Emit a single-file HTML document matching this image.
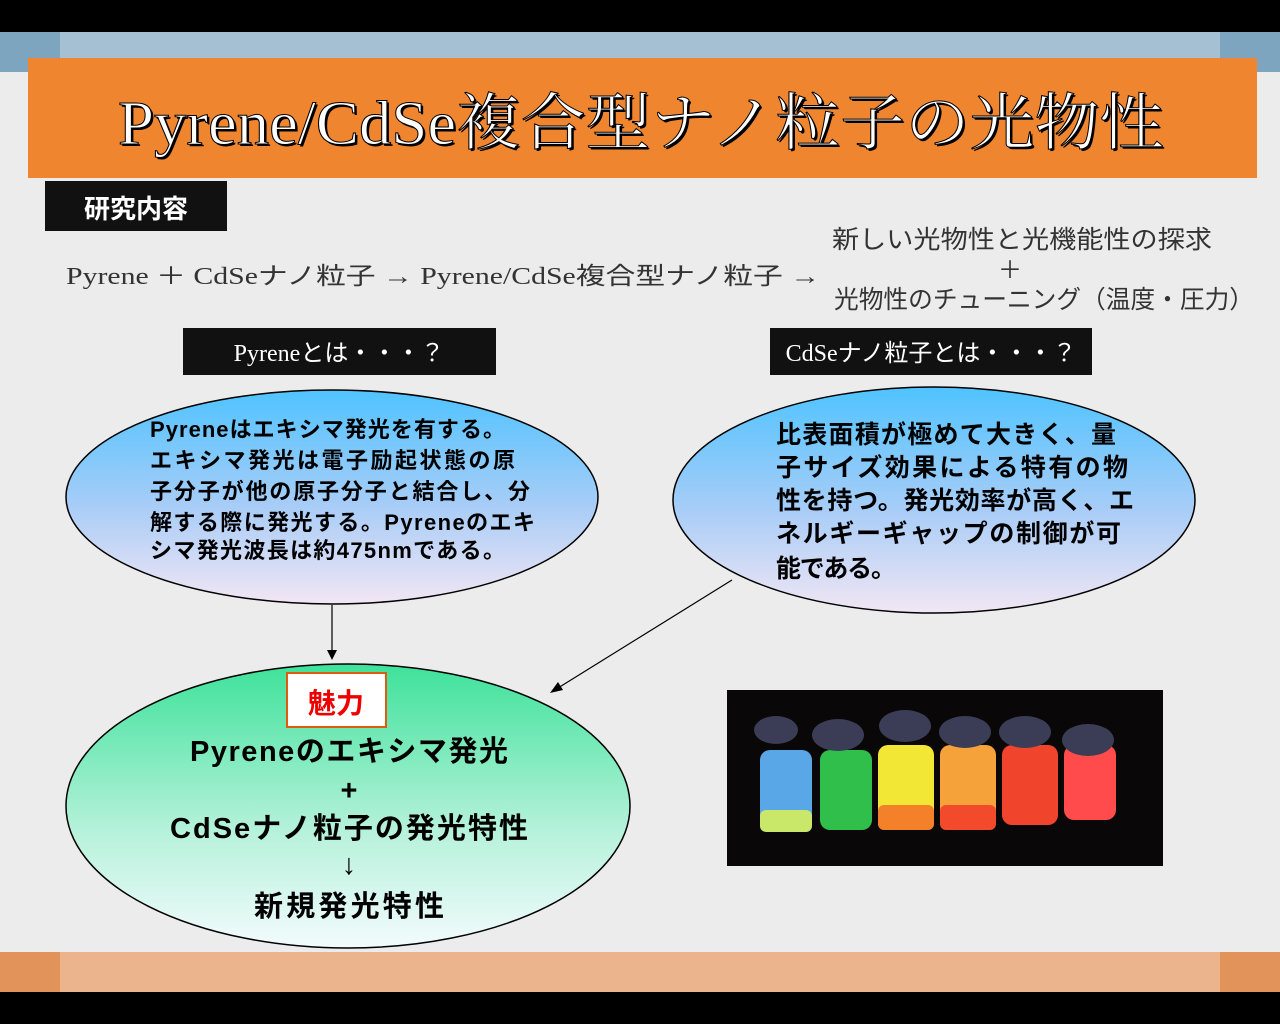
<!DOCTYPE html>
<html><head><meta charset="utf-8"><style>
body{margin:0;width:1280px;height:1024px;overflow:hidden;background:#ececec;font-family:"Liberation Sans","Noto Sans CJK JP",sans-serif}
svg{display:block}
</style></head><body>
<svg width="1280" height="1024" viewBox="0 0 1280 1024" xmlns="http://www.w3.org/2000/svg">
<defs>
<linearGradient id="blu" x1="0" y1="0" x2="0" y2="1"><stop offset="0" stop-color="#4fc3ff"/><stop offset="0.55" stop-color="#a9cdf7"/><stop offset="1" stop-color="#f2e6f4"/></linearGradient>
<linearGradient id="grn" x1="0" y1="0" x2="0" y2="1"><stop offset="0" stop-color="#3ee29a"/><stop offset="0.6" stop-color="#b8f2dc"/><stop offset="1" stop-color="#f3fbfd"/></linearGradient>
</defs>
<rect width="1280" height="1024" fill="#ececec"/>
<rect x="0" y="0" width="1280" height="32" fill="#000"/>
<rect x="0" y="32" width="1280" height="40" fill="#a6c0d3"/>
<rect x="0" y="32" width="60" height="40" fill="#7ea5c0"/>
<rect x="1220" y="32" width="60" height="40" fill="#7ea5c0"/>
<rect x="0" y="952" width="1280" height="40" fill="#ecb48c"/>
<rect x="0" y="952" width="60" height="40" fill="#e2935a"/>
<rect x="1220" y="952" width="60" height="40" fill="#e2935a"/>
<rect x="0" y="992" width="1280" height="32" fill="#000"/>
<rect x="28" y="58" width="1229" height="120" fill="#f08530"/>
<g font-family="Liberation Serif,'Noto Serif CJK SC',serif" font-size="62">
<text x="120" y="146" textLength="1046" lengthAdjust="spacingAndGlyphs" fill="#000">Pyrene/CdSe複合型ナノ粒子の光物性</text>
<text x="118" y="144" textLength="1046" lengthAdjust="spacingAndGlyphs" fill="#fff" stroke="#000" stroke-width="1">Pyrene/CdSe複合型ナノ粒子の光物性</text>
</g>
<rect x="45" y="181" width="182" height="50" fill="#111"/>
<text x="136" y="218" text-anchor="middle" font-size="26" font-weight="bold" fill="#fff">研究内容</text>
<text x="66" y="284" textLength="754" lengthAdjust="spacingAndGlyphs" font-family="Liberation Serif,'Noto Sans CJK JP',serif" font-size="24" fill="#333">Pyrene  ＋ CdSeナノ粒子 → Pyrene/CdSe複合型ナノ粒子 →</text>
<text x="832" y="248" textLength="380" lengthAdjust="spacingAndGlyphs" font-size="25" fill="#333">新しい光物性と光機能性の探求</text>
<text x="1010" y="278" text-anchor="middle" font-size="24" fill="#333">＋</text>
<text x="834" y="308" textLength="420" lengthAdjust="spacingAndGlyphs" font-size="25" fill="#333">光物性のチューニング（温度・圧力）</text>
<rect x="183" y="328" width="313" height="47" fill="#111"/>
<text x="339" y="361" text-anchor="middle" font-size="24" font-family="Liberation Serif,'Noto Sans CJK JP',serif" fill="#fff">Pyreneとは・・・？</text>
<rect x="770" y="328" width="322" height="47" fill="#111"/>
<text x="931" y="361" text-anchor="middle" font-size="24" font-family="Liberation Serif,'Noto Sans CJK JP',serif" fill="#fff">CdSeナノ粒子とは・・・？</text>
<ellipse cx="332" cy="497" rx="266" ry="107" fill="url(#blu)" stroke="#000" stroke-width="1.5"/>
<g font-size="22" font-weight="bold" fill="#000" lengthAdjust="spacingAndGlyphs">
<text x="150" y="437" textLength="355">Pyreneはエキシマ発光を有する。</text>
<text x="150" y="468" textLength="365">エキシマ発光は電子励起状態の原</text>
<text x="150" y="499" textLength="380">子分子が他の原子分子と結合し、分</text>
<text x="150" y="530" textLength="385">解する際に発光する。Pyreneのエキ</text>
<text x="150" y="558" textLength="355">シマ発光波長は約475nmである。</text>
</g>
<ellipse cx="934" cy="500" rx="261" ry="113" fill="url(#blu)" stroke="#000" stroke-width="1.5"/>
<g font-size="25" font-weight="bold" fill="#000">
<text x="776" y="443" textLength="340">比表面積が極めて大きく、量</text>
<text x="776" y="476" textLength="352">子サイズ効果による特有の物</text>
<text x="776" y="509" textLength="358">性を持つ。発光効率が高く、エ</text>
<text x="776" y="542" textLength="345">ネルギーギャップの制御が可</text>
<text x="776" y="577" textLength="120">能である。</text>
</g>
<line x1="332" y1="605" x2="332" y2="652" stroke="#000" stroke-width="1.2"/>
<polygon points="327,650 337,650 332,660" fill="#000"/>
<line x1="732" y1="580" x2="558" y2="688" stroke="#000" stroke-width="1.2"/>
<polygon points="550,693 558,682 563,690" fill="#000"/>
<ellipse cx="348" cy="806" rx="282" ry="142" fill="url(#grn)" stroke="#000" stroke-width="1.5"/>
<rect x="287" y="673" width="99" height="54" fill="#fff" stroke="#e05a10" stroke-width="2"/>
<text x="336" y="713" text-anchor="middle" font-size="28" font-weight="bold" fill="#e00">魅力</text>
<g font-size="29" font-weight="bold" fill="#000" text-anchor="middle">
<text x="349" y="761" textLength="318">Pyreneのエキシマ発光</text>
<text x="349" y="800">+</text>
<text x="349" y="838" textLength="358">CdSeナノ粒子の発光特性</text>
<text x="349" y="874">↓</text>
<text x="349" y="916" textLength="190">新規発光特性</text>
</g>
<rect x="727" y="690" width="436" height="176" fill="#0a0708"/>
<g>
<rect x="760" y="750" width="52" height="75" rx="10" fill="#5aa7e8"/><rect x="760" y="810" width="52" height="22" rx="6" fill="#c9e86a"/>
<rect x="820" y="750" width="52" height="80" rx="10" fill="#2fbf4a"/>
<rect x="878" y="745" width="56" height="85" rx="10" fill="#f2e734"/><rect x="878" y="805" width="56" height="25" rx="6" fill="#f5802a"/>
<rect x="940" y="745" width="56" height="85" rx="10" fill="#f6a23a"/><rect x="940" y="805" width="56" height="25" rx="6" fill="#f24a2a"/>
<rect x="1002" y="745" width="56" height="80" rx="10" fill="#f0452c"/>
<rect x="1064" y="745" width="52" height="75" rx="10" fill="#ff4b4b"/>
<g fill="#3a3d55"><ellipse cx="776" cy="730" rx="22" ry="14"/><ellipse cx="838" cy="735" rx="26" ry="16"/><ellipse cx="905" cy="726" rx="26" ry="16"/><ellipse cx="965" cy="732" rx="26" ry="16"/><ellipse cx="1025" cy="732" rx="26" ry="16"/><ellipse cx="1088" cy="740" rx="26" ry="16"/></g>
</g>
</svg>
</body></html>
